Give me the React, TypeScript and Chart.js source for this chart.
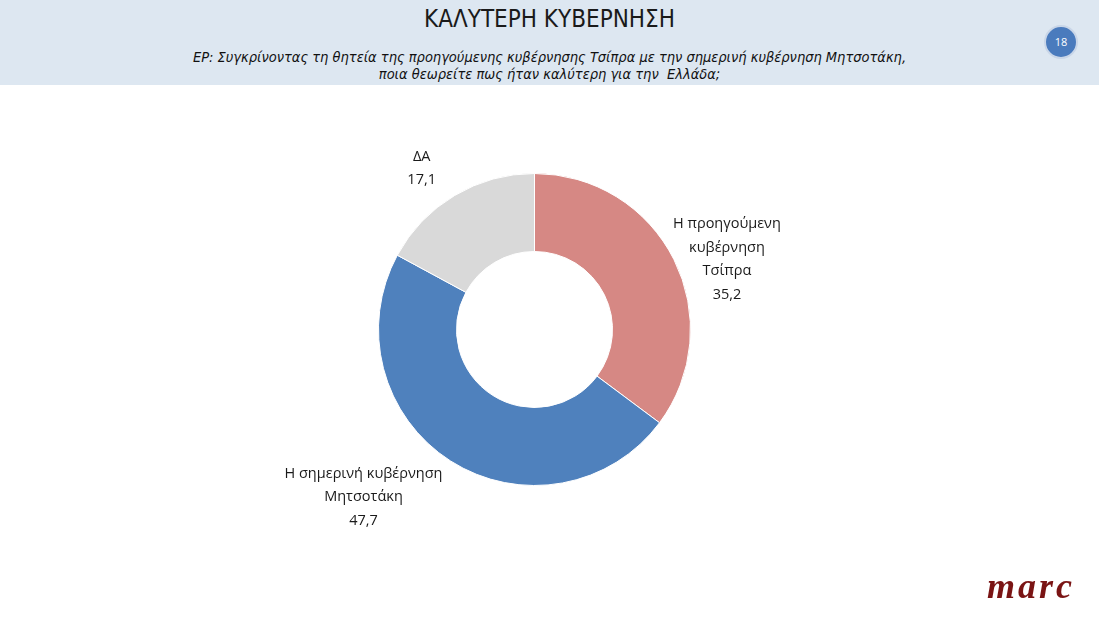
import React, { useEffect, useRef } from "react";
import { Chart, registerables } from "chart.js";

Chart.register(...registerables);

const categories = ["Η προηγούμενη κυβέρνηση Τσίπρα", "Η σημερινή κυβέρνηση Μητσοτάκη", "ΔΑ"];
const labelLines = [
  ["Η προηγούμενη", "κυβέρνηση", "Τσίπρα"],
  ["Η σημερινή κυβέρνηση", "Μητσοτάκη"],
  ["ΔΑ"],
];
const values = [35.2, 47.7, 17.1];
const colors = ["#d68884", "#4f81bd", "#d9d9d9"];

const fmt = (v: number) => v.toFixed(1).replace(".", ",");

const labelNudge = [
  [53, 0],
  [-87, 36],
  [-33, -27],
];

const labelPlugin = {
  id: "outLabels",
  afterDatasetsDraw(chart: any) {
    const ctx = chart.ctx;
    const meta = chart.getDatasetMeta(0);
    ctx.save();
    ctx.font = "14.5px 'Open Sans', 'Noto Sans', sans-serif";
    ctx.fillStyle = "#1a1a1a";
    ctx.textAlign = "center";
    ctx.textBaseline = "middle";
    const lh = 23.5;
    meta.data.forEach((arc: any, i: number) => {
      const p = arc.getProps(["x", "y", "startAngle", "endAngle", "outerRadius"], true);
      const mid = (p.startAngle + p.endAngle) / 2;
      const ax = p.x + Math.cos(mid) * p.outerRadius + labelNudge[i][0];
      const ay = p.y + Math.sin(mid) * p.outerRadius + labelNudge[i][1];
      const lines = [...labelLines[i], fmt(values[i])];
      const top = ay - ((lines.length - 1) * lh) / 2;
      lines.forEach((t, k) => ctx.fillText(t, ax, top + k * lh));
    });
    ctx.restore();
  },
};

export default function App() {
  const ref = useRef<HTMLCanvasElement | null>(null);
  useEffect(() => {
    if (!ref.current) return;
    const chart = new Chart(ref.current, {
      type: "doughnut",
      data: {
        labels: categories,
        datasets: [
          {
            data: values,
            backgroundColor: colors,
            borderColor: "#ffffff",
            borderWidth: 1,
          },
        ],
      },
      options: {
        animation: false,
        responsive: false,
        cutout: "50%",
        layout: { padding: { left: 378, right: 408, top: 173, bottom: 133 } },
        plugins: { legend: { display: false }, tooltip: { enabled: false }, title: { display: false } },
      },
      plugins: [labelPlugin],
    });
    return () => chart.destroy();
  }, []);

  return (
    <div style={{ position: "absolute", left: 0, top: 0, width: 1099, height: 619, background: "#fff", overflow: "hidden" }}>
      <div style={{ position: "absolute", left: 0, top: 0, width: 1099, height: 85, background: "#dde7f1" }} />
      <div
        style={{
          position: "absolute",
          left: 0,
          top: 3,
          width: 1099,
          textAlign: "center",
          fontFamily: "'DejaVu Sans Condensed', sans-serif",
          fontSize: 24,
          color: "#1a1a1a",
          lineHeight: "32px",
        }}
      >
        ΚΑΛΥΤΕΡΗ ΚΥΒΕΡΝΗΣΗ
      </div>
      <div
        style={{
          position: "absolute",
          left: 0,
          top: 49,
          width: 1099,
          textAlign: "center",
          fontFamily: "'DejaVu Sans Condensed', sans-serif",
          fontStyle: "italic",
          fontSize: 14.5,
          color: "#111",
          lineHeight: "17px",
        }}
      >
        <div>ΕΡ: Συγκρίνοντας τη θητεία της προηγούμενης κυβέρνησης Τσίπρα με την σημερινή κυβέρνηση Μητσοτάκη,</div>
        <div>ποια θεωρείτε πως ήταν καλύτερη για την&nbsp; Ελλάδα;</div>
      </div>
      <div
        style={{
          position: "absolute",
          left: 1044,
          top: 25,
          width: 30,
          height: 30,
          borderRadius: "50%",
          background: "#4a7bbd",
          border: "2px solid #c9d6e8",
          color: "#fff",
          fontFamily: "'Open Sans', sans-serif",
          fontSize: 11,
          lineHeight: "30px",
          textAlign: "center",
        }}
      >
        18
      </div>
      <canvas ref={ref} width={1099} height={619} style={{ position: "absolute", left: 0, top: 0, width: 1099, height: 619 }} />
      <div
        style={{
          position: "absolute",
          left: 987,
          top: 566,
          fontFamily: "'Liberation Serif', serif",
          fontStyle: "italic",
          fontWeight: "bold",
          fontSize: 36,
          color: "#7a1414",
          lineHeight: "40px",
          letterSpacing: 3,
        }}
      >
        marc
      </div>
    </div>
  );
}
